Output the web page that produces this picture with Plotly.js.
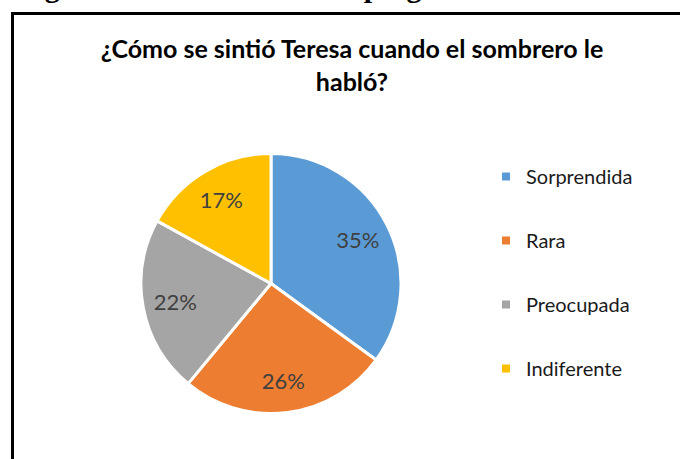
<!DOCTYPE html>
<html><head><meta charset="utf-8">
<script src="https://cdn.plot.ly/plotly-3.0.1.min.js"></script>
<style>html,body{margin:0;padding:0;background:#fff}</style>
</head><body><div id="chart" style="width:680px;height:459px"></div>
<script>
const categories = ["Sorprendida", "Rara", "Preocupada", "Indiferente"];
const values = [35, 26, 22, 17];
const colors = ["#5B9BD5", "#ED7D31", "#A5A5A5", "#FFC000"];
const titleText = "¿Cómo se sintió Teresa cuando el sombrero le<br>habló?";
const captionText = "<b>Figura 10: Resultado de la pregunta</b>";

const W = 680, H = 459;
const px = x => x / W, py = y => 1 - y / H;
const pieDomain = {x: [px(141), px(401)], y: [py(414), py(153)]};

// filled slices
const pie = {
  type: 'pie', labels: categories, values: values, sort: false,
  direction: 'clockwise', rotation: 0,
  marker: {colors: colors, line: {color: '#ffffff', width: 3}},
  textinfo: 'none', showlegend: false, hoverinfo: 'label+percent',
  domain: pieDomain
};
// transparent ring on top carrying the percentage labels
const labelsRing = {
  type: 'pie', labels: categories, values: values, sort: false,
  direction: 'clockwise', rotation: 0, hole: 0.5,
  marker: {colors: categories.map(() => 'rgba(0,0,0,0)'), line: {width: 0}},
  texttemplate: '%{percent:.0%}', textposition: 'inside',
  insidetextorientation: 'horizontal',
  textfont: {family: 'Lato, sans-serif', size: 22, color: '#404040'},
  showlegend: false, hoverinfo: 'skip',
  domain: pieDomain
};

const legendTraces = categories.map((c, i) => ({
  type: 'scatter', x: [null], y: [null], mode: 'markers', name: c,
  legendgroup: 'g' + i,
  marker: {symbol: 'square', size: 8, color: colors[i]}, hoverinfo: 'skip'
}));

const layout = {
  width: W, height: H,
  margin: {l: 0, r: 0, t: 0, b: 0},
  paper_bgcolor: '#ffffff', plot_bgcolor: 'rgba(0,0,0,0)',
  xaxis: {visible: false}, yaxis: {visible: false},
  title: {text: titleText, x: px(352), xanchor: 'center', xref: 'paper',
          y: py(58), yanchor: 'top', yref: 'paper',
          font: {family: 'Lato, sans-serif', size: 25, color: '#000000', weight: 'bold'}},
  showlegend: true,
  legend: {x: px(486), y: py(157), xanchor: 'left', yanchor: 'top',
           font: {family: 'Lato, sans-serif', size: 20, color: '#1a1a1a'},
           tracegroupgap: 35, bgcolor: 'rgba(0,0,0,0)'},
  shapes: [
    {type: 'line', xref: 'paper', yref: 'paper', x0: px(12.5), x1: px(12.5), y0: py(12), y1: py(470), line: {color: '#000', width: 3}},
    {type: 'line', xref: 'paper', yref: 'paper', x0: px(11), x1: px(690), y0: py(13.5), y1: py(13.5), line: {color: '#000', width: 3}}
  ],
  annotations: [
    {xref: 'paper', yref: 'paper', x: px(482), y: py(5.5), xanchor: 'right', yanchor: 'bottom',
     text: captionText, showarrow: false,
     font: {family: 'Liberation Serif, Times New Roman, serif', size: 30, color: '#000'}}
  ]
};

Plotly.newPlot('chart', [pie, labelsRing].concat(legendTraces), layout, {displayModeBar: false, staticPlot: true});
</script></body></html>
